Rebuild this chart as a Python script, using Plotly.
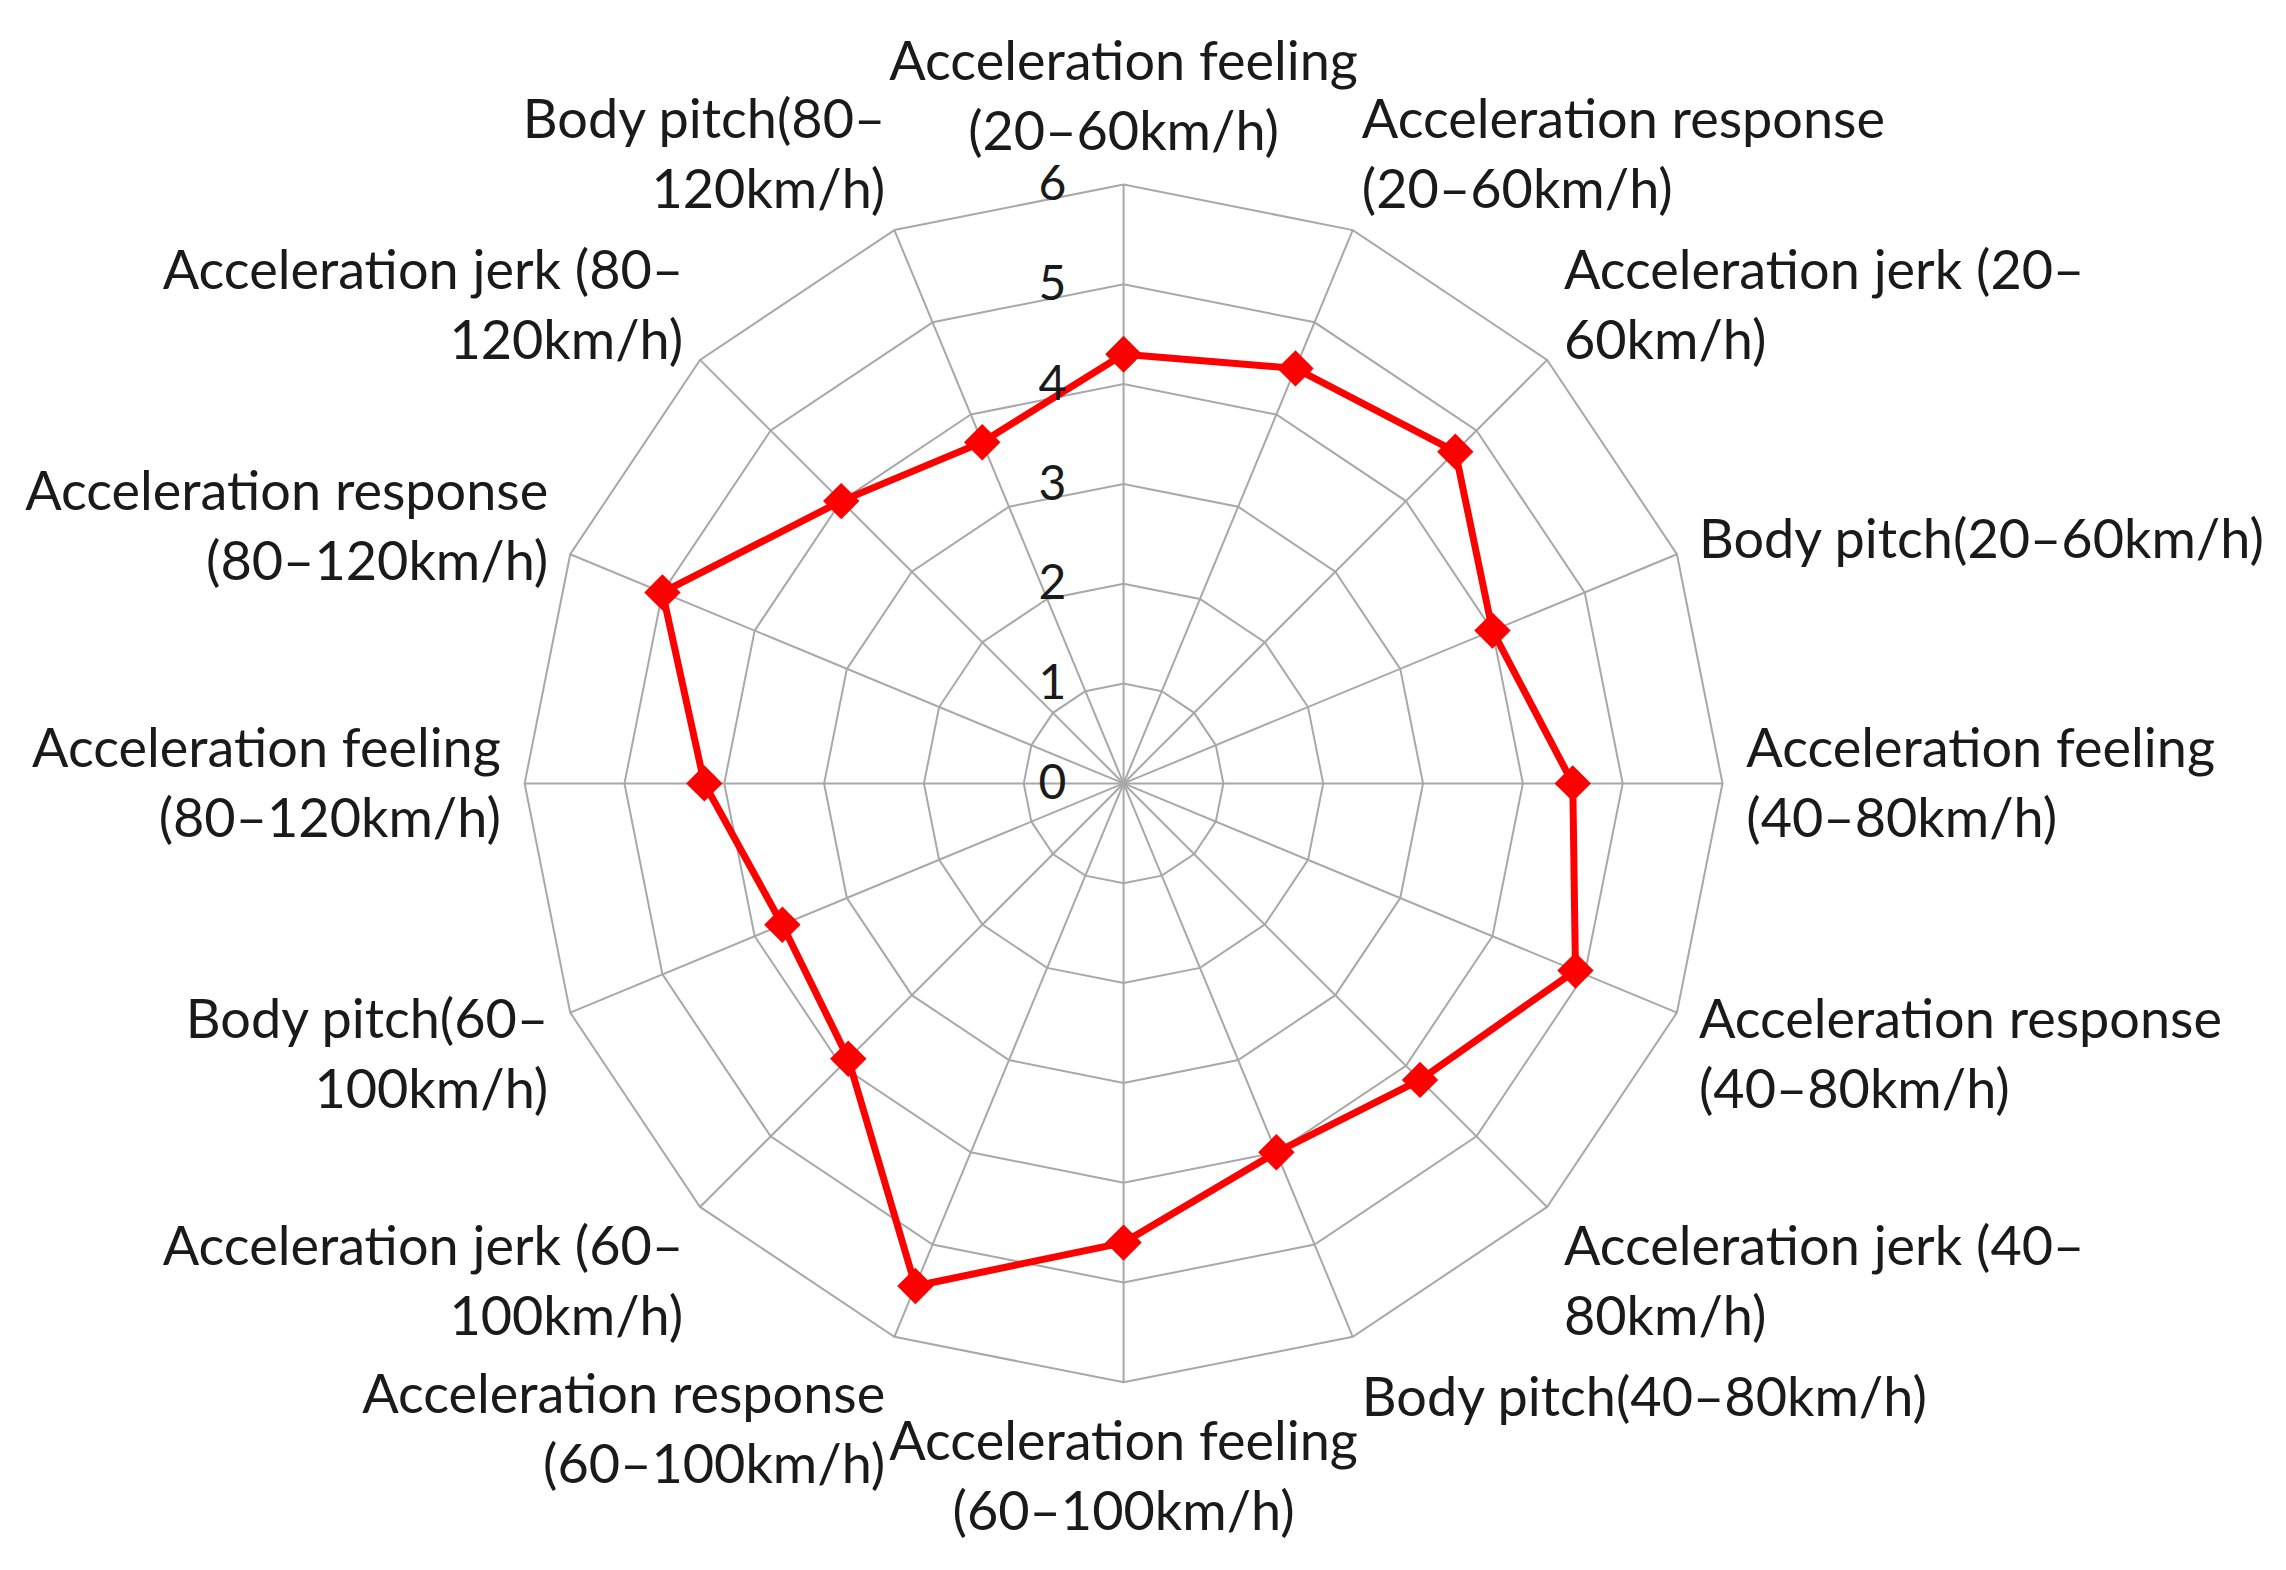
import plotly.graph_objects as go

categories = [
    "Acceleration feeling<br>(20–60km/h)",
    "Acceleration response<br>(20–60km/h)",
    "Acceleration jerk (20–<br>60km/h)",
    "Body pitch(20–60km/h)",
    "Acceleration feeling<br>(40–80km/h)",
    "Acceleration response<br>(40–80km/h)",
    "Acceleration jerk (40–<br>80km/h)",
    "Body pitch(40–80km/h)",
    "Acceleration feeling<br>(60–100km/h)",
    "Acceleration response<br>(60–100km/h)",
    "Acceleration jerk (60–<br>100km/h)",
    "Body pitch(60–<br>100km/h)",
    "Acceleration feeling<br>(80–120km/h)",
    "Acceleration response<br>(80–120km/h)",
    "Acceleration jerk (80–<br>120km/h)",
    "Body pitch(80–<br>120km/h)",
]
scores = [4.3, 4.5, 4.7, 4.0, 4.5, 4.9, 4.2, 4.0, 4.6, 5.45, 3.9, 3.7, 4.2, 5.0, 4.0, 3.7]
radial_ticks = [0, 1, 2, 3, 4, 5, 6]

font_family = "Lato, Open Sans, sans-serif"

fig = go.Figure()
fig.add_trace(go.Scatterpolar(
    r=scores + [scores[0]],
    theta=categories + [categories[0]],
    mode="lines+markers",
    line=dict(color="#ff0000", width=7),
    marker=dict(symbol="diamond", size=28, color="#ff0000"),
    showlegend=False,
))

fig.update_layout(
    width=2286, height=1570,
    margin=dict(l=0, r=0, t=0, b=0),
    paper_bgcolor="white",
    font=dict(family=font_family, size=54, color="#1a1a1a"),
    polar=dict(
        domain=dict(x=[0.226, 0.750], y=[0.1246, 0.8876]),
        bgcolor="white",
        gridshape="linear",
        radialaxis=dict(
            range=[0, 6], tickvals=radial_ticks, ticktext=[str(v) for v in radial_ticks],
            angle=90, tickangle=90, side="counterclockwise",
            showline=False, gridcolor="#a8a8a8", gridwidth=2,
            ticks="outside", ticklen=40, tickcolor="rgba(0,0,0,0)",
            tickfont=dict(size=48, family=font_family, color="#1a1a1a"),
        ),
        angularaxis=dict(
            direction="clockwise", rotation=90,
            categoryorder="array", categoryarray=categories,
            showline=True, linecolor="#a8a8a8", linewidth=2,
            gridcolor="#a8a8a8", gridwidth=2,
            ticks="outside", ticklen=12, tickcolor="rgba(0,0,0,0)",
            tickfont=dict(size=54, family=font_family, color="#1a1a1a"),
        ),
    ),
)

fig.write_html("out.html")
